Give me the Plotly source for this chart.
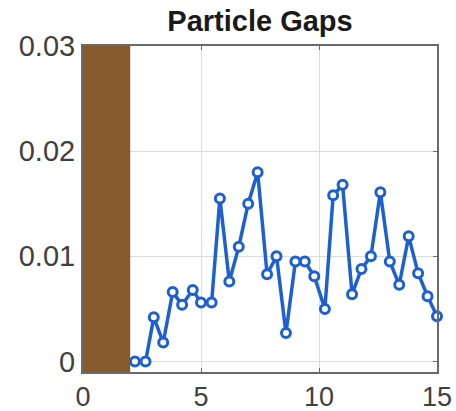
import plotly.graph_objects as go

# gap measurements along the track
position = [2.2, 2.65, 3.0, 3.4, 3.8, 4.2, 4.65, 5.0, 5.45, 5.8, 6.2, 6.6, 7.0,
            7.4, 7.8, 8.2, 8.6, 9.0, 9.4, 9.8, 10.25, 10.6, 11.0, 11.4, 11.8,
            12.2, 12.6, 13.0, 13.4, 13.8, 14.2, 14.6, 15.0]
gap = [0.0, 0.0, 0.0042, 0.0018, 0.0066, 0.0054, 0.0068, 0.0056, 0.0056,
       0.0155, 0.0076, 0.0109, 0.0150, 0.0180, 0.0083, 0.0100, 0.0027,
       0.0095, 0.0095, 0.0081, 0.0050, 0.0158, 0.0168, 0.0064, 0.0088,
       0.0100, 0.0161, 0.0095, 0.0073, 0.0119, 0.0084, 0.0062, 0.0043]

masked_start = 0
masked_end = 2
x_ticks = [0, 5, 10, 15]
y_ticks = [0, 0.01, 0.02, 0.03]
y_tick_labels = ["0", "0.01", "0.02", "0.03"]

fig = go.Figure()
fig.add_shape(type="rect", xref="x", yref="paper",
              x0=masked_start, x1=masked_end, y0=0, y1=1,
              fillcolor="#875a2d", line_width=0, layer="above")
fig.add_trace(go.Scatter(
    x=position, y=gap, mode="lines+markers",
    line=dict(color="#1c60d2", width=3.5),
    marker=dict(symbol="circle", size=9, color="white",
                line=dict(color="#1c60d2", width=3)),
    showlegend=False, cliponaxis=False,
))

axis_style = dict(
    showgrid=True, gridcolor="#dcdcdc", gridwidth=1,
    showline=True, linecolor="#6a6a6a", linewidth=2, mirror="ticks",
    ticks="inside", ticklen=4, tickcolor="#6a6a6a",
    zeroline=False, automargin=False,
)
tick_font = dict(family="Liberation Sans, Arial", color="#404040")
fig.update_xaxes(range=[0, 15], tickvals=x_ticks,
                 tickfont=dict(size=27, **tick_font), **axis_style)
fig.update_yaxes(range=[-0.001, 0.03], tickvals=y_ticks,
                 ticktext=y_tick_labels,
                 tickfont=dict(size=29, **tick_font), **axis_style)

fig.update_layout(
    width=456, height=411,
    margin=dict(l=83, r=19, t=46, b=39),
    paper_bgcolor="white", plot_bgcolor="white",
    title=dict(text="<b>Particle Gaps</b>", x=260 / 456, xanchor="center",
               y=0.973, yanchor="top",
               font=dict(family="Liberation Sans, Arial", size=29, color="#1a1a1a")),
)

# drop the default page margin so the figure fills the window exactly
fig.write_html(
    "out.html",
    config={"displayModeBar": False},
    post_script="document.body.style.margin='0';document.body.style.overflow='hidden';",
)
